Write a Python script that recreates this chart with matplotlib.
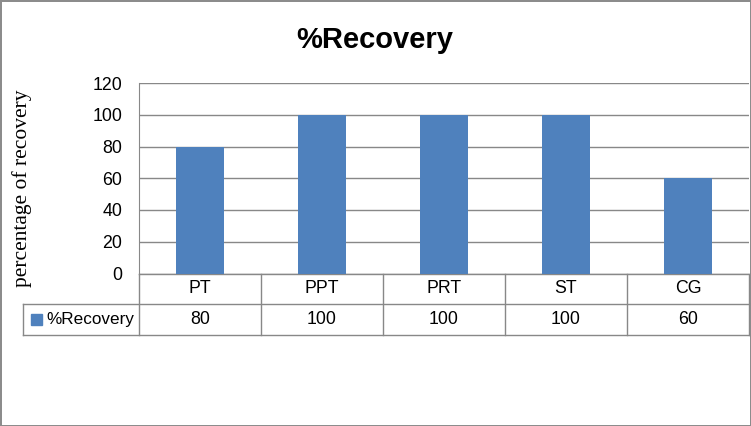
import matplotlib
matplotlib.use("Agg")
import matplotlib.pyplot as plt
import matplotlib.transforms as mtransforms
from matplotlib.patches import Rectangle

# ── data ──────────────────────────────────────────────────────────────────────
categories = ["PT", "PPT", "PRT", "ST", "CG"]
recovery   = [80, 100, 100, 100, 60]
series_name = "%Recovery"
y_ticks = [0, 20, 40, 60, 80, 100, 120]

# ── style ─────────────────────────────────────────────────────────────────────
BAR_COLOR  = "#4F81BD"
LINE_COLOR = "#888888"
FONT       = "Liberation Sans"
FS         = 12.8
W, H = 751, 426

fig = plt.figure(figsize=(W / 100, H / 100), dpi=100)
fig.patch.set_edgecolor("#8c8c8c")
fig.patch.set_linewidth(2)

ax_l, ax_r, ax_b, ax_t = 139, 749, 273.5, 83
ax = fig.add_axes([ax_l / W, 1 - ax_b / H, (ax_r - ax_l) / W, (ax_b - ax_t) / H])

x = range(len(categories))
ax.bar(x, recovery, width=0.4, color=BAR_COLOR, zorder=3)

ax.set_xlim(-0.5, len(categories) - 0.5)
ax.set_ylim(0, 120)
ax.set_yticks(y_ticks)
ax.set_xticks([])
ax.tick_params(axis="y", length=0, pad=12, labelsize=FS)
for lbl in ax.get_yticklabels():
    lbl.set_fontfamily(FONT)
ax.grid(axis="y", color=LINE_COLOR, lw=1, zorder=0)
for s in ["top", "right", "bottom"]:
    ax.spines[s].set_visible(False)
ax.spines["left"].set_color(LINE_COLOR)

# ── data table below plot ─────────────────────────────────────────────────────
trans = mtransforms.blended_transform_factory(ax.transData, ax.transAxes)
row_h = 30.8 / (ax_b - ax_t)
col_w_px = (ax_r - ax_l) / len(categories)
leg_left = -0.5 - (ax_l - 23) / col_w_px
right = len(categories) - 0.5

line_kw = dict(color=LINE_COLOR, lw=1, transform=trans, clip_on=False)
ax.plot([-0.5, right], [0, 0], **line_kw)
ax.plot([leg_left, right], [-row_h, -row_h], **line_kw)
ax.plot([leg_left, right], [-2 * row_h, -2 * row_h], **line_kw)
ax.plot([leg_left, leg_left], [-row_h, -2 * row_h], **line_kw)
ax.plot([-0.5, -0.5], [0, -2 * row_h], **line_kw)
for i in range(len(categories)):
    ax.plot([i + 0.5, i + 0.5], [0, -2 * row_h], **line_kw)

for i, (cat, val) in enumerate(zip(categories, recovery)):
    ax.text(i, -0.5 * row_h, cat, transform=trans, ha="center", va="center",
            fontsize=FS, family=FONT)
    ax.text(i, -1.5 * row_h, f"{val}", transform=trans, ha="center", va="center",
            fontsize=FS, family=FONT)

# legend key in the row header
sq_x = leg_left + 8 / col_w_px
sq_w = 11 / col_w_px
sq_h = 11 / (ax_b - ax_t)
ax.add_patch(Rectangle((sq_x, -1.5 * row_h - sq_h / 2), sq_w, sq_h,
                       transform=trans, color=BAR_COLOR, clip_on=False))
ax.text(leg_left + 23 / col_w_px, -1.5 * row_h, series_name, transform=trans,
        ha="left", va="center", fontsize=12.3, family=FONT)

# ── titles ────────────────────────────────────────────────────────────────────
fig.text(375 / W, 1 - 40 / H, "%Recovery", ha="center", va="center",
         fontsize=21, fontweight="bold", family=FONT)
fig.text(22 / W, 1 - 188 / H, "percentage of recovery", rotation=90,
         ha="center", va="center", fontsize=15.5, family="Liberation Serif")

fig.savefig("out.png", dpi=100)
